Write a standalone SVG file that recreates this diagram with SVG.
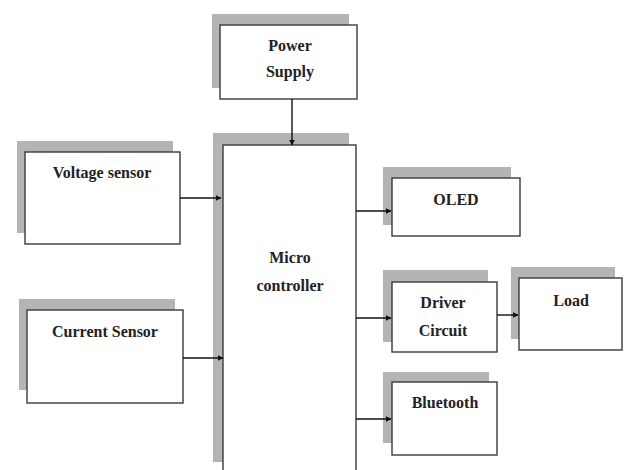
<svg xmlns="http://www.w3.org/2000/svg" width="629" height="470" viewBox="0 0 629 470">
<defs>
<style>
.sh{fill:#b4b4b4;stroke:none}
.bx{fill:#fff;stroke:#3a3a3a;stroke-width:1.4}
.t{font-family:'Liberation Serif','DejaVu Serif',serif;font-weight:bold;font-size:16px;fill:#222;text-anchor:middle}
.ln{stroke:#111;stroke-width:1.4;fill:none;marker-end:url(#ah)}
</style>
<marker id="ah" viewBox="0 0 10 10" refX="9" refY="5" markerWidth="6" markerHeight="6" orient="auto" markerUnits="userSpaceOnUse">
<path d="M0,0 L10,5 L0,10 z" fill="#111"/>
</marker>
</defs>
<rect width="629" height="470" fill="#fff"/>
<g id="power">
<rect class="sh" x="212" y="14" width="137" height="74"/>
<rect class="bx" x="220" y="25" width="137" height="74"/>
<text class="t" x="290" y="51" font-family="Liberation Serif, serif">Power</text>
<text class="t" x="290" y="77" font-family="Liberation Serif, serif">Supply</text>
</g>
<g id="micro">
<rect class="sh" x="213" y="133" width="136" height="329"/>
<rect class="bx" x="223" y="145" width="133" height="330"/>
<text class="t" x="290" y="263" font-family="Liberation Serif, serif">Micro</text>
<text class="t" x="290" y="291" font-family="Liberation Serif, serif">controller</text>
</g>
<g id="voltage">
<rect class="sh" x="17" y="141" width="156" height="92"/>
<rect class="bx" x="25" y="152" width="155" height="92"/>
<text class="t" x="102" y="178" font-family="Liberation Serif, serif">Voltage sensor</text>
</g>
<g id="current">
<rect class="sh" x="19" y="299" width="156" height="91"/>
<rect class="bx" x="27" y="310" width="156" height="93"/>
<text class="t" x="105" y="337" font-family="Liberation Serif, serif">Current Sensor</text>
</g>
<g id="oled">
<rect class="sh" x="383" y="167" width="128" height="58"/>
<rect class="bx" x="392" y="178" width="128" height="58"/>
<text class="t" x="456" y="205" font-family="Liberation Serif, serif">OLED</text>
</g>
<g id="driver">
<rect class="sh" x="383" y="270" width="105" height="72"/>
<rect class="bx" x="392" y="282" width="105" height="70"/>
<text class="t" x="443" y="308" font-family="Liberation Serif, serif">Driver</text>
<text class="t" x="443" y="336" font-family="Liberation Serif, serif">Circuit</text>
</g>
<g id="load">
<rect class="sh" x="511" y="267" width="104" height="72"/>
<rect class="bx" x="519" y="278" width="103" height="72"/>
<text class="t" x="571" y="306" font-family="Liberation Serif, serif">Load</text>
</g>
<g id="bluetooth">
<rect class="sh" x="383" y="372" width="106" height="71"/>
<rect class="bx" x="392" y="382" width="105" height="73"/>
<text class="t" x="445" y="408" font-family="Liberation Serif, serif">Bluetooth</text>
</g>
<g id="connectors">
<line class="ln" x1="292" y1="99" x2="292" y2="145"/>
<line class="ln" x1="180" y1="198" x2="221" y2="198"/>
<line class="ln" x1="183" y1="358" x2="223" y2="358"/>
<line class="ln" x1="356" y1="211" x2="391" y2="211"/>
<line class="ln" x1="356" y1="318" x2="391" y2="318"/>
<line class="ln" x1="356" y1="419" x2="391" y2="419"/>
<line class="ln" x1="497" y1="315" x2="518" y2="315"/>
</g>
</svg>
